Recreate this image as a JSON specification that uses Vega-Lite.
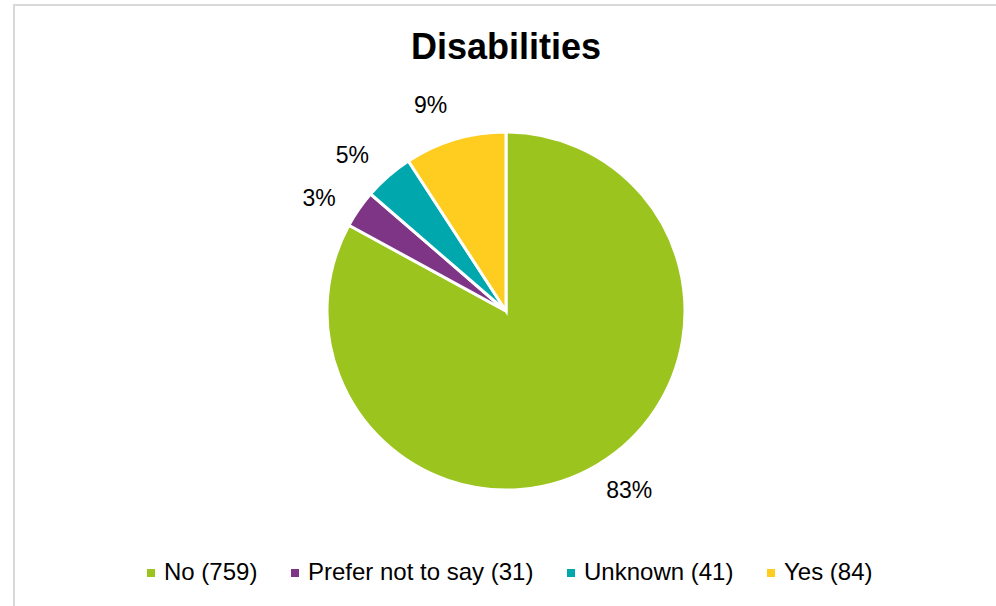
{
  "$schema": "https://vega.github.io/schema/vega-lite/v6.json",
  "autosize": "none",
  "width": 984,
  "height": 612,
  "padding": {"left": 14, "top": 5, "right": 0, "bottom": 0},
  "background": "white",
  "view": {"stroke": "#d9d9d9", "strokeWidth": 2},
  "config": {
    "view": {"stroke": "#d9d9d9", "strokeWidth": 2},
    "font": "Liberation Sans"
  },
  "title": {
    "text": "Disabilities",
    "font": "Liberation Sans",
    "fontSize": 36,
    "fontWeight": "bold",
    "color": "#000000",
    "anchor": "middle",
    "frame": "group",
    "baseline": "alphabetic",
    "offset": -90
  },
  "data": {
    "values": [
      {"category": "No (759)", "count": 759, "ord": 1, "pct": "83%"},
      {"category": "Prefer not to say (31)", "count": 31, "ord": 2, "pct": "3%"},
      {"category": "Unknown (41)", "count": 41, "ord": 3, "pct": "5%"},
      {"category": "Yes (84)", "count": 84, "ord": 4, "pct": "9%"}
    ]
  },
  "encoding": {
    "theta": {"field": "count", "type": "quantitative", "stack": true},
    "order": {"field": "ord", "type": "quantitative"}
  },
  "layer": [
    {
      "mark": {"type": "arc", "outerRadius": 179, "stroke": "white", "strokeWidth": 3},
      "encoding": {
        "color": {
          "field": "category",
          "type": "nominal",
          "sort": ["No (759)", "Prefer not to say (31)", "Unknown (41)", "Yes (84)"],
          "scale": {
            "domain": ["No (759)", "Prefer not to say (31)", "Unknown (41)", "Yes (84)"],
            "range": ["#9BC41E", "#7E3586", "#00A7AD", "#FFCD1F"]
          },
          "legend": {
            "title": null,
            "orient": "none",
            "direction": "horizontal",
            "legendX": 125,
            "legendY": 556,
            "symbolType": "square",
            "symbolSize": 64,
            "symbolStrokeWidth": 0,
            "labelFont": "Liberation Sans",
            "labelFontSize": 24,
            "labelColor": "#000000",
            "labelOffset": 1,
            "columnPadding": 25,
            "labelLimit": 400
          }
        }
      }
    },
    {
      "mark": {"type": "text", "radius": 218, "thetaOffset": -0.065, "fontSize": 23, "font": "Liberation Sans", "color": "#000000"},
      "encoding": {
        "text": {"field": "pct", "type": "nominal"}
      }
    }
  ]
}
